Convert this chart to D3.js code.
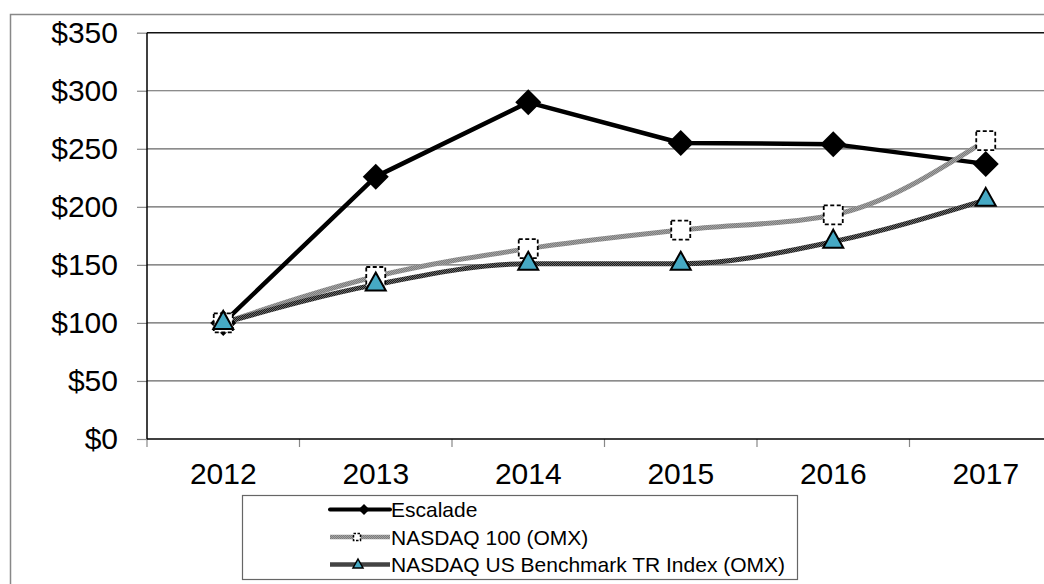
<!DOCTYPE html>
<html>
<head>
<meta charset="utf-8">
<script src="https://cdn.jsdelivr.net/npm/d3@7"></script>
<style>
	html, body { margin: 0; padding: 0; background: #fff; }
	svg { display: block; font-family: "Liberation Sans", Arial, sans-serif; }
</style>
</head>
<body>
<svg id="chart" width="1044" height="584"></svg>
<script>
// chart data
const years = ['2012', '2013', '2014', '2015', '2016', '2017'];
const escalade = [100, 226, 290, 255, 254, 237];
const nasdaq100 = [100, 140, 164, 180, 193, 257];
const benchmark = [100, 133, 151, 151, 170, 206];
const yTicks = [0, 50, 100, 150, 200, 250, 300, 350];
const seriesNames = ['Escalade', 'NASDAQ 100 (OMX)', 'NASDAQ US Benchmark TR Index (OMX)'];

const svg = d3.select('#chart');

// textures for the two index lines
const defs = svg.append('defs');
function checker(id, a, b) {
	const p = defs.append('pattern')
		.attr('id', id)
		.attr('patternUnits', 'userSpaceOnUse')
		.attr('width', 2).attr('height', 2);
	p.append('rect').attr('width', 2).attr('height', 2).attr('fill', a);
	p.append('rect').attr('width', 1).attr('height', 1).attr('fill', b);
	p.append('rect').attr('x', 1).attr('y', 1).attr('width', 1).attr('height', 1).attr('fill', b);
}
checker('tex-gray', '#7c7c7c', '#a4a4a4');
checker('tex-dark', '#1c1c1c', '#6a6a6a');

// outer chart frame (runs off the right and bottom)
svg.append('rect')
	.attr('x', 10.5).attr('y', 14.5)
	.attr('width', 1100).attr('height', 700)
	.attr('fill', 'none').attr('stroke', '#888').attr('stroke-width', 1.5);

const x = d3.scaleBand().domain(years).range([147, 1062]).padding(0);
const y = d3.scaleLinear().domain([0, 350]).range([439, 32.7]);
const cx = d => x(d) + x.bandwidth() / 2;

// gridlines
svg.append('g')
	.selectAll('line')
	.data(yTicks.filter(t => t > 0))
	.join('line')
	.attr('x1', 147).attr('x2', 1062)
	.attr('y1', d => y(d)).attr('y2', d => y(d))
	.attr('stroke', d => d === 350 ? '#111' : '#666')
	.attr('stroke-width', d => d === 350 ? 1.6 : 1.2);

// y axis
const yAxis = svg.append('g')
	.attr('transform', 'translate(147,0)')
	.call(d3.axisLeft(y).tickValues(yTicks).tickFormat(d => '$' + d).tickSize(10).tickPadding(19));
yAxis.select('.domain').remove();
yAxis.selectAll('.tick line').attr('stroke', '#888').attr('stroke-width', 1.2);
yAxis.selectAll('text').attr('font-size', 30).attr('fill', '#000')
	.attr('font-family', '"Liberation Sans", Arial, sans-serif');
svg.append('line')
	.attr('x1', 147).attr('x2', 147).attr('y1', 32.7).attr('y2', 439)
	.attr('stroke', '#000').attr('stroke-width', 1.5);

// x axis
const xAxis = svg.append('g')
	.attr('transform', 'translate(0,439)')
	.call(d3.axisBottom(x).tickSize(0).tickPadding(24));
xAxis.select('.domain').remove();
xAxis.selectAll('text').attr('font-size', 30).attr('fill', '#000')
	.attr('font-family', '"Liberation Sans", Arial, sans-serif');
svg.append('g')
	.selectAll('line')
	.data(years)
	.join('line')
	.attr('x1', d => x(d)).attr('x2', d => x(d))
	.attr('y1', 439).attr('y2', 447)
	.attr('stroke', '#888').attr('stroke-width', 1.2);
svg.append('line')
	.attr('x1', 147).attr('x2', 1062).attr('y1', 439).attr('y2', 439)
	.attr('stroke', '#000').attr('stroke-width', 1.5);

// series
const straight = d3.line().x((d, i) => cx(years[i])).y(d => y(d));
const smooth = d3.line().x((d, i) => cx(years[i])).y(d => y(d)).curve(d3.curveMonotoneX);

svg.append('path').datum(escalade).attr('d', straight)
	.attr('fill', 'none').attr('stroke', '#000').attr('stroke-width', 4.5).attr('stroke-linejoin', 'round');
svg.append('path').datum(nasdaq100).attr('d', smooth)
	.attr('fill', 'none').attr('stroke', 'url(#tex-gray)').attr('stroke-width', 5);
svg.append('path').datum(benchmark).attr('d', smooth)
	.attr('fill', 'none').attr('stroke', 'url(#tex-dark)').attr('stroke-width', 5);

const diamond = s => `M0,${-s}L${s},0L0,${s}L${-s},0Z`;
const square = s => `M${-s},${-s}H${s}V${s}H${-s}Z`;
const triangle = (w, h) => `M0,${-h / 2}L${w / 2},${h / 2}H${-w / 2}Z`;

svg.append('g').selectAll('path').data(escalade).join('path')
	.attr('transform', (d, i) => `translate(${cx(years[i])},${y(d)})`)
	.attr('d', diamond(13)).attr('fill', '#000');
svg.append('g').selectAll('path').data(nasdaq100).join('path')
	.attr('transform', (d, i) => `translate(${cx(years[i])},${y(d)})`)
	.attr('d', square(9.5)).attr('fill', '#fff')
	.attr('stroke', '#000').attr('stroke-width', 1.8).attr('stroke-dasharray', '4,2.5');
svg.append('g').selectAll('path').data(benchmark).join('path')
	.attr('transform', (d, i) => `translate(${cx(years[i])},${y(d) - 3})`)
	.attr('d', triangle(20, 18)).attr('fill', '#46a9c4')
	.attr('stroke', '#000').attr('stroke-width', 2).attr('stroke-linejoin', 'miter');

// legend
const legend = svg.append('g');
legend.append('rect')
	.attr('x', 242.5).attr('y', 495.5).attr('width', 555).attr('height', 84)
	.attr('fill', '#fff').attr('stroke', '#666').attr('stroke-width', 1.2);
const rowY = [509.5, 537, 564.5];
const rows = legend.selectAll('g.row').data(seriesNames).join('g')
	.attr('class', 'row')
	.attr('transform', (d, i) => `translate(0,${rowY[i]})`);
rows.append('line')
	.attr('x1', 330).attr('x2', 390).attr('y1', 0).attr('y2', 0)
	.attr('stroke', (d, i) => ['#000', 'url(#tex-gray)', 'url(#tex-dark)'][i])
	.attr('stroke-width', (d, i) => i === 0 ? 4 : 4.5)
	.attr('stroke-linecap', (d, i) => i === 0 ? 'round' : 'butt');
rows.filter((d, i) => i === 0).append('path')
	.attr('transform', 'translate(364,0)').attr('d', diamond(5.5)).attr('fill', '#000');
rows.filter((d, i) => i === 1).append('path')
	.attr('transform', 'translate(357,0)').attr('d', square(3.5)).attr('fill', '#fff')
	.attr('stroke', '#000').attr('stroke-width', 1.5).attr('stroke-dasharray', '2.5,1.5');
rows.filter((d, i) => i === 2).append('path')
	.attr('transform', 'translate(358,-1)').attr('d', triangle(10, 9)).attr('fill', '#46a9c4')
	.attr('stroke', '#000').attr('stroke-width', 1.5);
rows.append('text')
	.attr('x', 391).attr('y', 0).attr('dy', '0.36em')
	.attr('font-size', 21).attr('fill', '#000')
	.text(d => d);
</script>
</body>
</html>
